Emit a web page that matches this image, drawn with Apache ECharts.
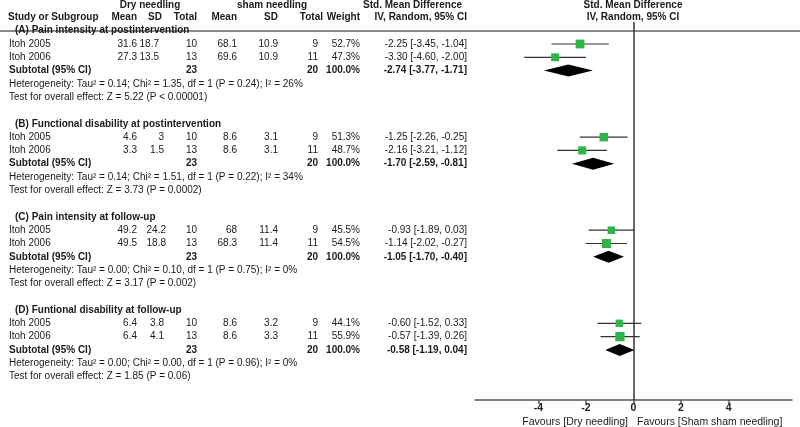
<!DOCTYPE html>
<html><head><meta charset="utf-8">
<script src="https://cdn.jsdelivr.net/npm/echarts@6/dist/echarts.min.js"></script>
<style>html,body{margin:0;padding:0;background:#fff}#c{width:800px;height:427px}</style>
</head><body><div id="c"></div>
<script>
// ---------------- DATA ----------------
const groupTitles = ['(A) Pain intensity at postintervention', '(B) Functional disability at postintervention', '(C) Pain intensity at follow-up', '(D) Funtional disability at follow-up'];
const studyNames = ['Itoh 2005', 'Itoh 2006'];
const dryMean = [[31.6, 27.3], [4.6, 3.3], [49.2, 49.5], [6.4, 6.4]];
const drySD = [[18.7, 13.5], [3, 1.5], [24.2, 18.8], [3.8, 4.1]];
const dryN = [[10, 13], [10, 13], [10, 13], [10, 13]];
const shamMean = [[68.1, 69.6], [8.6, 8.6], [68, 68.3], [8.6, 8.6]];
const shamSD = [[10.9, 10.9], [3.1, 3.1], [11.4, 11.4], [3.2, 3.3]];
const shamN = [[9, 11], [9, 11], [9, 11], [9, 11]];
const weights = [[52.7, 47.3], [51.3, 48.7], [45.5, 54.5], [44.1, 55.9]];
const smd = [[-2.25, -3.30], [-1.25, -2.16], [-0.93, -1.14], [-0.60, -0.57]];
const ciLow = [[-3.45, -4.60], [-2.26, -3.21], [-1.89, -2.02], [-1.52, -1.39]];
const ciHigh = [[-1.04, -2.00], [-0.25, -1.12], [0.03, -0.27], [0.33, 0.26]];
const subDryN = [23, 23, 23, 23];
const subShamN = [20, 20, 20, 20];
const subWeight = ['100.0%', '100.0%', '100.0%', '100.0%'];
const subSMD = [-2.74, -1.70, -1.05, -0.58];
const subLow = [-3.77, -2.59, -1.70, -1.19];
const subHigh = [-1.71, -0.81, -0.40, 0.04];
const hetText = [
  'Heterogeneity: Tau² = 0.14; Chi² = 1.35, df = 1 (P = 0.24); I² = 26%',
  'Heterogeneity: Tau² = 0.14; Chi² = 1.51, df = 1 (P = 0.22); I² = 34%',
  'Heterogeneity: Tau² = 0.00; Chi² = 0.10, df = 1 (P = 0.75); I² = 0%',
  'Heterogeneity: Tau² = 0.00; Chi² = 0.00, df = 1 (P = 0.96); I² = 0%'
];
const testText = [
  'Test for overall effect: Z = 5.22 (P < 0.00001)',
  'Test for overall effect: Z = 3.73 (P = 0.0002)',
  'Test for overall effect: Z = 3.17 (P = 0.002)',
  'Test for overall effect: Z = 1.85 (P = 0.06)'
];
const xTicks = [-4, -2, 0, 2, 4];
const favourLeft = 'Favours [Dry needling]';
const favourRight = 'Favours [Sham sham needling]';

// ---------------- LAYOUT ----------------
const ROW0 = 30.7, ROWH = 13.3, TOP = 22, BOTTOM = 400;
const Y_MIN = (TOP - ROW0) / ROWH, Y_MAX = (BOTTOM - ROW0) / ROWH;
const rowOf = y => (y - ROW0) / ROWH;
const COL = {study: 9, group: 15, dMean: 137, dSD: [159, 164, 166, 164], dN: 197, sMean: 237, sSD: 278, sN: 318, w: 360, ci: 467};
const FONT = '"Liberation Sans", Arial, sans-serif';
const FS = 10;
const TXT = '#1a1a1a';

const texts = [];
function T(x, row, s, align, bold, fs) { texts.push({x, row, s: String(s), align: align || 'right', bold: !!bold, fs: fs || FS}); }
const fmt = v => v.toFixed(2);
const ciStr = (e, l, h) => fmt(e) + ' [' + fmt(l) + ', ' + fmt(h) + ']';

// headers
const h1 = rowOf(5), h2 = rowOf(17);
T(150, h1, 'Dry needling', 'center', true);
T(272, h1, 'sham needling', 'center', true);
T(462, h1, 'Std. Mean Difference', 'right', true);
T(633, h1, 'Std. Mean Difference', 'center', true);
T(8, h2, 'Study or Subgroup', 'left', true);
T(COL.dMean, h2, 'Mean', 'right', true);
T(162, h2, 'SD', 'right', true);
T(COL.dN, h2, 'Total', 'right', true);
T(COL.sMean, h2, 'Mean', 'right', true);
T(COL.sSD, h2, 'SD', 'right', true);
T(323, h2, 'Total', 'right', true);
T(COL.w, h2, 'Weight', 'right', true);
T(COL.ci, h2, 'IV, Random, 95% CI', 'right', true);
T(633, h2, 'IV, Random, 95% CI', 'center', true);

const sqData = [], ciData = [], diaData = [];
groupTitles.forEach((title, g) => {
  const base = g * 7;
  T(COL.group, base, title, 'left', true);
  studyNames.forEach((name, i) => {
    const r = base + 1 + i;
    T(COL.study, r, name, 'left');
    T(COL.dMean, r, dryMean[g][i]);
    T(COL.dSD[g], r, drySD[g][i]);
    T(COL.dN, r, dryN[g][i]);
    T(COL.sMean, r, shamMean[g][i]);
    T(COL.sSD, r, shamSD[g][i]);
    T(COL.sN, r, shamN[g][i]);
    T(COL.w, r, weights[g][i].toFixed(1) + '%');
    T(COL.ci, r, ciStr(smd[g][i], ciLow[g][i], ciHigh[g][i]));
    sqData.push([smd[g][i], r, weights[g][i]]);
    ciData.push([ciLow[g][i], ciHigh[g][i], r]);
  });
  const rs = base + 3;
  T(COL.study, rs, 'Subtotal (95% CI)', 'left', true);
  T(COL.dN, rs, subDryN[g], 'right', true);
  T(COL.sN, rs, subShamN[g], 'right', true);
  T(COL.w, rs, subWeight[g], 'right', true);
  T(COL.ci, rs, ciStr(subSMD[g], subLow[g], subHigh[g]), 'right', true);
  diaData.push([subLow[g], subSMD[g], subHigh[g], rs]);
  T(COL.study, base + 4, hetText[g], 'left');
  T(COL.study, base + 5, testText[g], 'left');
});
T(628, rowOf(422), favourLeft, 'right', false, 10.5);
T(637, rowOf(422), favourRight, 'left', false, 10.5);

const chart = echarts.init(document.getElementById('c'), null, {renderer: 'canvas'});
chart.setOption({
  animation: false,
  backgroundColor: '#fff',
  grid: [
    {left: 0, right: 0, top: TOP, bottom: 427 - BOTTOM},
    {left: 475, right: 8, top: TOP, bottom: 427 - BOTTOM}
  ],
  xAxis: [
    {gridIndex: 0, type: 'value', min: 0, max: 800, position: 'top',
     axisLine: {show: true, lineStyle: {color: '#666', width: 1.5}}, axisTick: {show: false}, axisLabel: {show: false}, splitLine: {show: false}},
    {gridIndex: 1, type: 'value', min: -6.67, max: 6.67,
     axisLine: {show: true, onZero: false, lineStyle: {color: '#555', width: 1.5}},
     axisTick: {show: true, customValues: xTicks, length: 4, lineStyle: {color: '#555', width: 1.5}},
     axisLabel: {show: true, customValues: xTicks, margin: 3, color: '#222', fontSize: 10.5, fontFamily: FONT, fontWeight: 'bold'},
     splitLine: {show: false}}
  ],
  yAxis: [
    {gridIndex: 0, type: 'value', min: Y_MIN, max: Y_MAX, inverse: true, show: false},
    {gridIndex: 1, type: 'value', min: Y_MIN, max: Y_MAX, inverse: true, show: false}
  ],
  series: [
    {
      type: 'custom', xAxisIndex: 0, yAxisIndex: 0, silent: true, clip: false,
      data: texts.map(t => [t.x, t.row]),
      encode: {x: 0, y: 1},
      renderItem: (params, api) => {
        const t = texts[params.dataIndex];
        const p = api.coord([t.x, t.row]);
        return {type: 'text', x: p[0], y: p[1], style: {text: t.s, align: t.align, verticalAlign: 'middle', font: (t.bold ? 'bold ' : '') + t.fs + 'px ' + FONT, fill: TXT}};
      }
    },
    {
      type: 'custom', xAxisIndex: 1, yAxisIndex: 1, silent: true, clip: false,
      data: ciData, encode: {x: [0, 1], y: 2},
      renderItem: (params, api) => {
        const a = api.coord([api.value(0), api.value(2)]);
        const b = api.coord([api.value(1), api.value(2)]);
        return {type: 'line', shape: {x1: a[0], y1: a[1], x2: b[0], y2: b[1]}, style: {stroke: '#333', lineWidth: 1.2}};
      }
    },
    {
      type: 'custom', xAxisIndex: 1, yAxisIndex: 1, silent: true, clip: false,
      data: diaData, encode: {x: [0, 1, 2], y: 3},
      renderItem: (params, api) => {
        const r = api.value(3);
        const l = api.coord([api.value(0), r]);
        const m = api.coord([api.value(1), r]);
        const h = api.coord([api.value(2), r]);
        const hh = 6;
        return {type: 'polygon', shape: {points: [[l[0], l[1]], [m[0], m[1] - hh], [h[0], h[1]], [m[0], m[1] + hh]]}, style: {fill: '#000'}};
      }
    },
    {
      type: 'scatter', xAxisIndex: 1, yAxisIndex: 1, silent: true, z: 5,
      symbol: 'rect', symbolSize: v => v[2] / 6,
      itemStyle: {color: '#2fb44a', opacity: 1},
      data: sqData,
      markLine: {silent: true, symbol: ['none', 'none'], label: {show: false},
        lineStyle: {color: '#333', width: 1.5, type: 'solid'}, data: [{xAxis: 0}]}
    }
  ]
});
</script></body></html>
